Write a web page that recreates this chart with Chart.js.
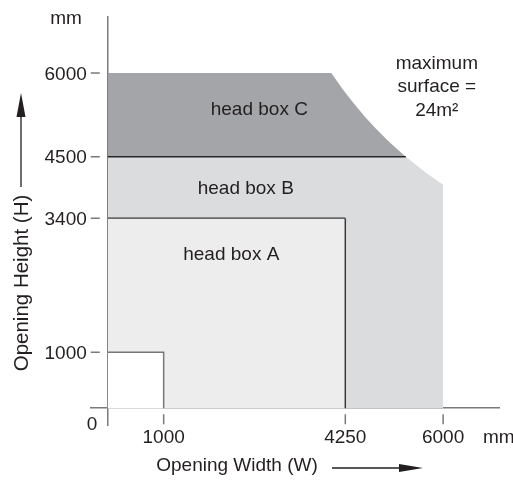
<!DOCTYPE html>
<html><head><meta charset="utf-8">
<script src="https://cdn.jsdelivr.net/npm/chart.js@4/dist/chart.umd.min.js"></script>
<style>html,body{margin:0;padding:0;background:#fff;}#wrap{width:513px;height:481px;}</style>
</head><body><div id="wrap"><canvas id="c" width="513" height="481"></canvas></div>
<script>
// ---- data (mm) ----
const xTickValues = [1000, 4250, 6000];
const yTickValues = [1000, 3400, 4500, 6000];
// head box B outline (W, H)
const boxBW = [0, 5333, 5500, 5700, 6000, 6000];
const boxBH = [4500, 4500, 4364, 4211, 4000, 0];
// head box A outline
const boxAW = [0, 4250, 4250];
const boxAH = [3400, 3400, 0];
// excluded corner
const cornerW = [0, 1000, 1000];
const cornerH = [1000, 1000, 0];
// head box C outline (upper edge + 24 m² limit)
const boxCW = [0, 4000, 4200, 4400, 4600, 4800, 5000, 5200, 5333];
const boxCH = [6000, 6000, 5714, 5455, 5217, 5000, 4800, 4615, 4500];
// separator lines
const lineCW = [0, 5333];
const lineCH = [4500, 4500];
const lineATopW = [0, 4250];
const lineATopH = [3400, 3400];
const lineASideW = [4250, 4250];
const lineASideH = [3400, 0];
// labels
const regionLabels = ['head box C', 'head box B', 'head box A'];
const regionLabelW = [2711, 2469, 2210];
const regionLabelH = [5242, 3829, 2648];
const noteLines = ['maximum', 'surface =', '24m²'];
const noteW = [5887, 5887, 5887];
const noteH = [6066, 5654, 5225];
const xTitle = 'Opening Width (W)';
const yTitle = 'Opening Height (H)';
const unitLabel = 'mm';
const originLabel = '0';

const FONT = '"Liberation Sans", Arial, Helvetica, sans-serif';
const TXT = '#231f20';
const AXIS = '#7a7a7a';
const pts = (w, h) => w.map((v, i) => ({x: v, y: h[i]}));

const base = {showLine: true, pointRadius: 0, pointHoverRadius: 0, tension: 0};

const textPlugin = {
  id: 'texts',
  afterDraw(chart) {
    const ctx = chart.ctx, xs = chart.scales.x, ys = chart.scales.y;
    const x0 = xs.getPixelForValue(0), y0 = ys.getPixelForValue(0);
    ctx.save();
    // tick marks (detached from the axis lines, as in the drawing)
    ctx.strokeStyle = AXIS;
    ctx.lineWidth = 1.5;
    ctx.beginPath();
    ys.ticks.forEach(t => {
      const py = ys.getPixelForValue(t.value);
      ctx.moveTo(x0 - 17, py); ctx.lineTo(x0 - 8, py);
    });
    xs.ticks.forEach(t => {
      const px = xs.getPixelForValue(t.value);
      ctx.moveTo(px, y0 + 6); ctx.lineTo(px, y0 + 16);
    });
    ctx.stroke();

    ctx.fillStyle = TXT;
    ctx.font = '19px ' + FONT;
    // y tick labels from the y scale
    ctx.textAlign = 'right';
    ctx.textBaseline = 'middle';
    ys.ticks.forEach(t => ctx.fillText(String(t.value), x0 - 21, ys.getPixelForValue(t.value) + 1.5));

    ctx.textAlign = 'center';
    ctx.textBaseline = 'alphabetic';
    regionLabels.forEach((t, i) => ctx.fillText(t, xs.getPixelForValue(regionLabelW[i]), ys.getPixelForValue(regionLabelH[i])));
    noteLines.forEach((t, i) => ctx.fillText(t, xs.getPixelForValue(noteW[i]), ys.getPixelForValue(noteH[i])));
    // units & origin
    ctx.textBaseline = 'middle';
    ctx.fillText(unitLabel, 66, 19);
    ctx.fillText(originLabel, 92, 425);
    ctx.textAlign = 'left';
    ctx.fillText(unitLabel, 483, 438);
    // x title
    ctx.textAlign = 'center';
    ctx.fillText(xTitle, 237, 466);
    // y title
    ctx.save();
    ctx.translate(22, 283);
    ctx.rotate(-Math.PI / 2);
    ctx.font = '20.5px ' + FONT;
    ctx.fillText(yTitle, 0, 0);
    ctx.restore();
    // arrows
    ctx.strokeStyle = TXT;
    ctx.lineWidth = 1.3;
    ctx.beginPath();
    ctx.moveTo(21, 187); ctx.lineTo(21, 112);
    ctx.moveTo(332, 468); ctx.lineTo(402, 468);
    ctx.stroke();
    ctx.beginPath();
    ctx.moveTo(21, 93); ctx.lineTo(16.5, 117); ctx.lineTo(25.5, 117); ctx.closePath();
    ctx.fill();
    ctx.beginPath();
    ctx.moveTo(423, 468); ctx.lineTo(399, 464); ctx.lineTo(399, 472); ctx.closePath();
    ctx.fill();
    ctx.restore();
  }
};

new Chart(document.getElementById('c'), {
  type: 'scatter',
  data: {
    datasets: [
      Object.assign({}, base, {data: pts(boxBW, boxBH), fill: 'origin', backgroundColor: '#dbdcde', borderWidth: 0, borderColor: 'rgba(0,0,0,0)', order: 9}),
      Object.assign({}, base, {data: pts(boxAW, boxAH), fill: 'origin', backgroundColor: '#ededee', borderWidth: 0, borderColor: 'rgba(0,0,0,0)', order: 8}),
      Object.assign({}, base, {data: pts(cornerW, cornerH), fill: 'origin', backgroundColor: '#ffffff', borderWidth: 1.5, borderColor: '#777777', order: 7}),
      Object.assign({}, base, {data: pts(boxCW, boxCH), fill: {value: 4500}, backgroundColor: '#a4a5a8', borderWidth: 0, borderColor: 'rgba(0,0,0,0)', order: 6}),
      Object.assign({}, base, {data: pts(lineCW, lineCH), fill: false, borderWidth: 1.6, borderColor: '#262626', order: 5}),
      Object.assign({}, base, {data: pts(lineATopW, lineATopH), fill: false, borderWidth: 1.8, borderColor: '#6a6a6a', order: 4}),
      Object.assign({}, base, {data: pts(lineASideW, lineASideH), fill: false, borderWidth: 1.5, borderColor: '#3a3a3a', order: 3})
    ]
  },
  options: {
    responsive: false,
    animation: false,
    devicePixelRatio: 1,
    layout: {padding: {left: 91, right: 14, top: 17, bottom: 56}},
    plugins: {legend: {display: false}, tooltip: {enabled: false}},
    events: [],
    scales: {
      x: {
        type: 'linear', min: -300, max: 7000, position: {y: 0}, z: 1,
        afterBuildTicks: s => { s.ticks = xTickValues.map(v => ({value: v})); },
        border: {display: true, color: AXIS, width: 1.5},
        grid: {display: false, drawTicks: false},
        ticks: {autoSkip: false, maxRotation: 0, padding: 18, color: TXT, font: {family: FONT, size: 19}, callback: v => String(v)}
      },
      y: {
        type: 'linear', min: -300, max: 7000, position: {x: 0}, z: 1,
        afterBuildTicks: s => { s.ticks = yTickValues.map(v => ({value: v})); },
        border: {display: true, color: AXIS, width: 1.5},
        grid: {display: false, drawTicks: false},
        ticks: {display: false, font: {family: FONT, size: 19}}
      }
    }
  },
  plugins: [textPlugin]
});
</script>
</body></html>
